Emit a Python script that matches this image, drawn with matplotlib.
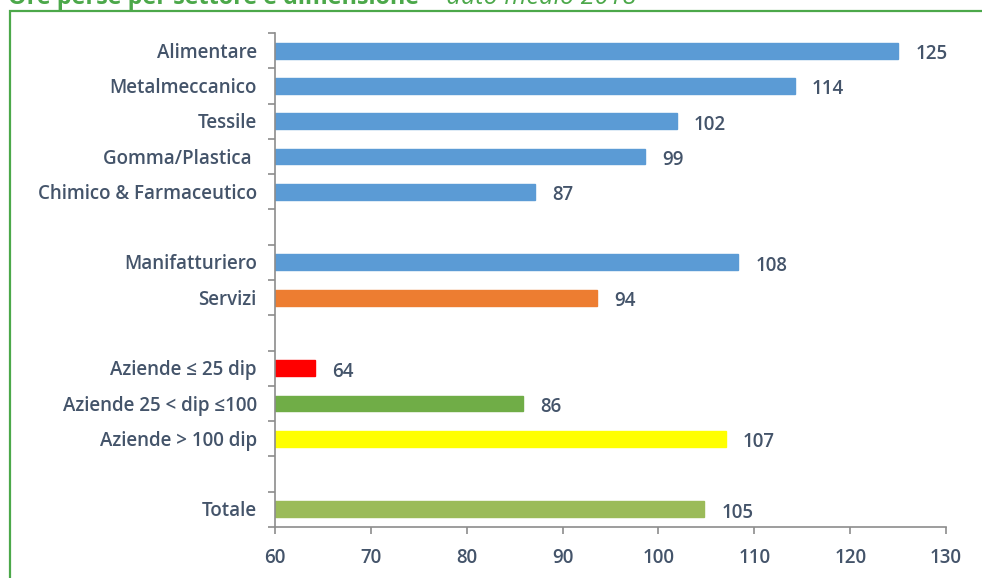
import numpy as np
import matplotlib.pyplot as plt
from matplotlib.patches import Rectangle

# Categorie (dall'alto verso il basso), None = riga vuota
categorie = ['Alimentare', 'Metalmeccanico', 'Tessile', 'Gomma/Plastica ',
             'Chimico & Farmaceutico', None, 'Manifatturiero', 'Servizi', None,
             'Aziende ≤ 25 dip', 'Aziende 25 < dip ≤100', 'Aziende > 100 dip',
             None, 'Totale']
valori = [125, 114.2, 101.9, 98.6, 87.1, None, 108.3, 93.6, None,
          64.2, 85.9, 107.0, None, 104.8]
colori = ['#5B9BD5', '#5B9BD5', '#5B9BD5', '#5B9BD5', '#5B9BD5', None,
          '#5B9BD5', '#ED7D31', None, '#FF0000', '#70AD47', '#FFFF00',
          None, '#9BBB59']
xticks = [60, 70, 80, 90, 100, 110, 120, 130]

testo = '#44546A'
font = ['Open Sans', 'DejaVu Sans']
fs = 13.5

fig = plt.figure(figsize=(9.82, 5.78), dpi=100)
ax = fig.add_axes([275 / 982, 51 / 578, 671 / 982, 494 / 578])

n = len(categorie)
for i, (c, v, col) in enumerate(zip(categorie, valori, colori)):
    if v is None:
        continue
    ax.barh(i, v - 60, left=60, height=0.45, color=col, edgecolor=col)
    ax.text(v + 1.8, i + 0.1, f'{v:.0f}', va='center', ha='left',
            fontsize=fs, color=testo, fontweight='semibold', family=font)

ax.set_ylim(n - 0.5, -0.5)
ax.set_xlim(60, 130)

# etichette categorie
for i, c in enumerate(categorie):
    if c:
        ax.text(58.1, i + 0.06, c, va='center', ha='right', fontsize=fs,
                color=testo, fontweight='semibold', family=font)

ax.set_yticks(np.arange(n + 1) - 0.5)
ax.set_yticklabels([])
ax.set_xticks(xticks)
ax.set_xticklabels([str(x) for x in xticks], fontsize=fs, color=testo,
                   fontweight='semibold', family=font)
ax.tick_params(axis='y', length=5, color='#8C8C8C', width=1.2)
ax.tick_params(axis='x', length=5, color='#8C8C8C', width=1.2, pad=10)
for s in ['top', 'right']:
    ax.spines[s].set_visible(False)
for s in ['left', 'bottom']:
    ax.spines[s].set_color('#8C8C8C')
    ax.spines[s].set_linewidth(1.2)

# cornice verde e titolo tagliato (come nell'originale)
fig.patches.append(Rectangle((10 / 982, -0.1), 1.1, 1.1 - 11 / 578,
                             transform=fig.transFigure, fill=False,
                             edgecolor='#4CA84A', linewidth=1.6))
fig.text(8 / 982, 1 - 4 / 578, 'Ore perse per settore e dimensione',
         color='#4CA84A', fontsize=16.8, fontweight='bold', family=font,
         va='baseline', ha='left')
fig.text(432 / 982, 1 - 4 / 578, '- dato medio 2018',
         color='#4CA84A', fontsize=18.2, style='italic', family=font,
         va='baseline', ha='left')

fig.savefig('out.png', dpi=100)
